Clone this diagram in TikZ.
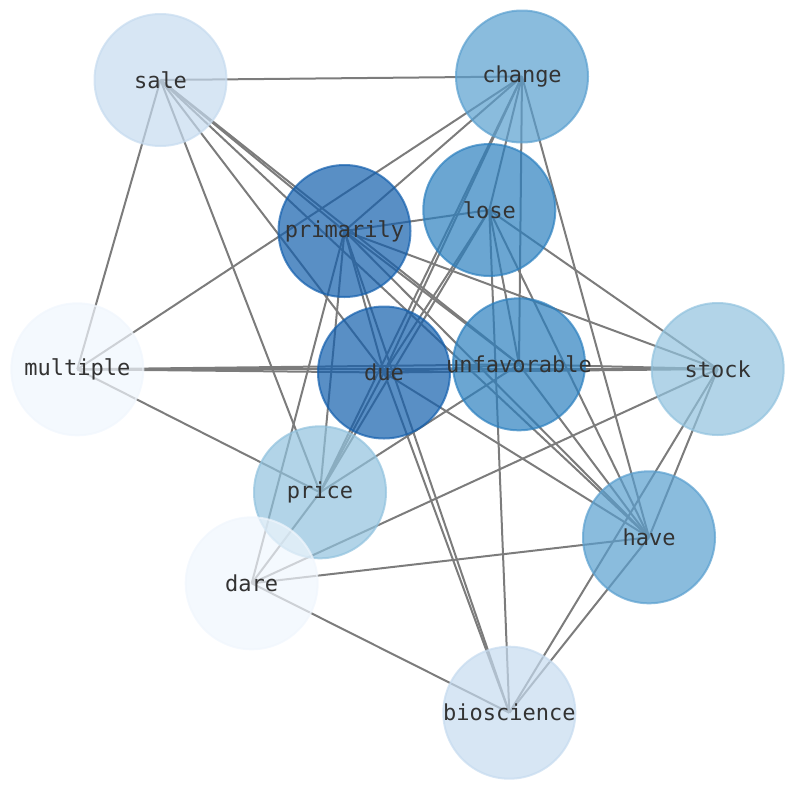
\documentclass[tikz,border=0pt]{standalone}
\usepackage{fontspec}
\newfontfamily\labelfont{DejaVu Sans Mono}
\pgfdeclarelayer{bg}
\pgfsetlayers{bg,main}
\definecolor{cA}{RGB}{19,95,173}
\definecolor{cB}{RGB}{44,128,191}
\definecolor{cC}{RGB}{89,159,207}
\definecolor{cD}{RGB}{145,194,222}
\definecolor{cE}{RGB}{198,219,239}
\definecolor{cF}{RGB}{240,246,253}
\definecolor{edgegray}{RGB}{124,124,124}
\newcommand\wordlbl[1]{\makebox[0pt]{#1}}
\begin{document}
\begin{tikzpicture}[x=1pt,y=-1pt,
  word/.style={circle, minimum size=132pt, inner sep=0pt, line width=2pt,
    fill opacity=0.7, draw opacity=0.7, text opacity=1,
    text=black!80, font=\labelfont\fontsize{22}{26}\selectfont},
  link/.style={draw=edgegray, line width=2pt}]
\useasboundingbox (0,0) rectangle (794,790);
\node[word, fill=cE, draw=cE] (sale) at (160.5,80) {\wordlbl{sale}};
\node[word, fill=cC, draw=cC] (change) at (522,76.5) {\wordlbl{change}};
\node[word, fill=cA, draw=cA] (primarily) at (344.5,231) {\wordlbl{primarily}};
\node[word, fill=cB, draw=cB] (lose) at (489.3,210) {\wordlbl{lose}};
\node[word, fill=cF, draw=cF] (multiple) at (77.3,369.3) {\wordlbl{multiple}};
\node[word, fill=cA, draw=cA] (due) at (384,372.5) {\wordlbl{due}};
\node[word, fill=cB, draw=cB] (unfavorable) at (519,364.3) {\wordlbl{unfavorable}};
\node[word, fill=cD, draw=cD] (stock) at (717.7,369) {\wordlbl{stock}};
\node[word, fill=cD, draw=cD] (price) at (320,492.3) {\wordlbl{price}};
\node[word, fill=cC, draw=cC] (have) at (649,537.3) {\wordlbl{have}};
\node[word, fill=cF, draw=cF] (dare) at (251.7,583.3) {\wordlbl{dare}};
\node[word, fill=cE, draw=cE] (bioscience) at (509.3,712.7) {\wordlbl{bioscience}};
\begin{pgfonlayer}{bg}
\foreach \a/\b in {sale/change, sale/multiple, sale/price, sale/due, sale/primarily,
  sale/unfavorable, sale/have,
  change/multiple, change/primarily, change/due, change/price, change/lose,
  change/unfavorable, change/have,
  primarily/lose, primarily/price, primarily/dare, primarily/due, primarily/bioscience,
  primarily/unfavorable, primarily/have, primarily/stock,
  lose/due, lose/price, lose/unfavorable, lose/have, lose/bioscience, lose/stock,
  multiple/due, multiple/unfavorable, multiple/stock, multiple/price,
  due/unfavorable, due/stock, due/have, due/bioscience, due/price,
  unfavorable/stock, unfavorable/have, unfavorable/price,
  stock/have, stock/bioscience, stock/dare,
  have/dare, have/bioscience, dare/bioscience, dare/price}
  \draw[link] (\a.center) -- (\b.center);
\end{pgfonlayer}
\end{tikzpicture}
\end{document}
